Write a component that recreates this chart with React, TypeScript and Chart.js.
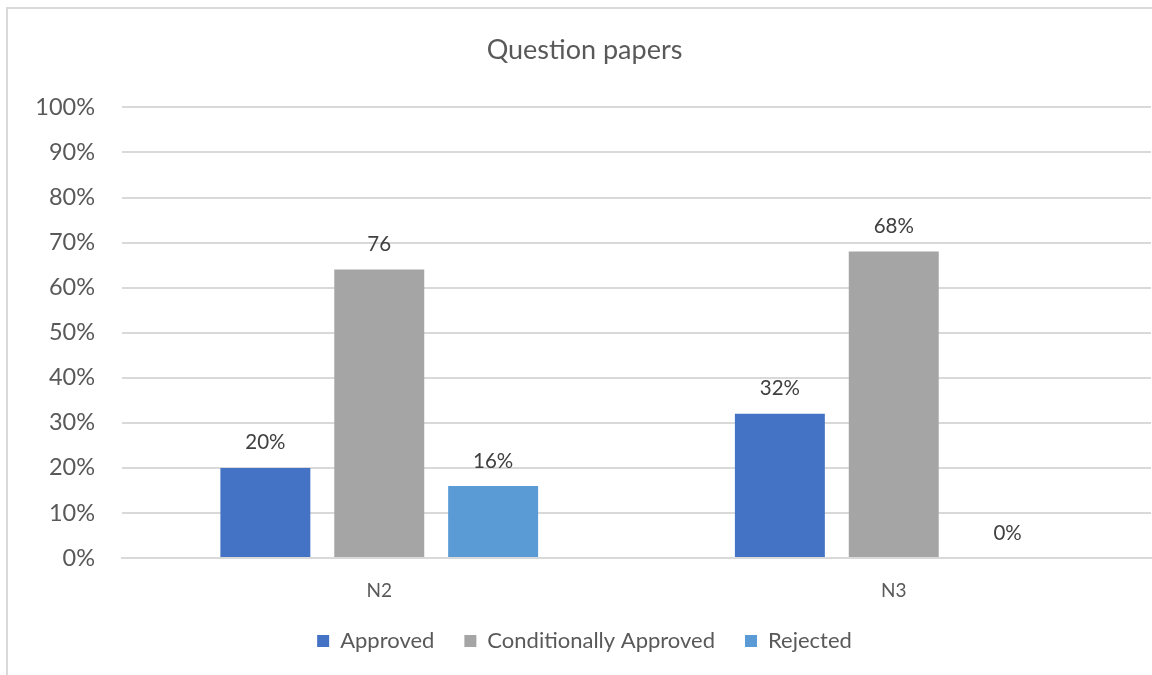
import React, { useEffect, useRef } from "react";
import { Chart, registerables } from "chart.js";

Chart.register(...registerables);

const categories = ["N2", "N3"];
const approved = [20, 32];
const conditionallyApproved = [64, 68];
const rejected = [16, 0];
const approvedLabels = ["20%", "32%"];
const conditionallyApprovedLabels = ["76", "68%"];
const rejectedLabels = ["16%", "0%"];
const yTicks = [0, 10, 20, 30, 40, 50, 60, 70, 80, 90, 100];

const FONT = "Lato, 'Noto Sans', sans-serif";
const TEXT = "#595959";

const dataLabelPlugin = {
  id: "dataLabels",
  afterDatasetsDraw(chart: any) {
    const ctx = chart.ctx;
    ctx.save();
    ctx.font = `20.5px ${FONT}`;
    ctx.fillStyle = "#404040";
    ctx.textAlign = "center";
    ctx.textBaseline = "middle";
    chart.data.datasets.forEach((ds: any, di: number) => {
      const meta = chart.getDatasetMeta(di);
      meta.data.forEach((bar: any, i: number) => {
        const label = ds.valueLabels[i];
        ctx.fillText(label, bar.x, bar.y - 25);
      });
    });
    ctx.restore();
  },
};

export default function App() {
  const ref = useRef<HTMLCanvasElement | null>(null);
  useEffect(() => {
    const prevMargin = document.body.style.margin;
    document.body.style.margin = "0";
    const chart = new Chart(ref.current as HTMLCanvasElement, {
      type: "bar",
      data: {
        labels: categories,
        datasets: [
          { label: "Approved", data: approved, backgroundColor: "#4472C4", valueLabels: approvedLabels } as any,
          { label: "Conditionally Approved", data: conditionallyApproved, backgroundColor: "#A5A5A5", valueLabels: conditionallyApprovedLabels } as any,
          { label: "Rejected", data: rejected, backgroundColor: "#5B9BD5", valueLabels: rejectedLabels } as any,
        ],
      },
      options: {
        animation: false,
        responsive: false,
        layout: { padding: { left: 18, right: 1, top: 0, bottom: 13 } },
        datasets: { bar: { categoryPercentage: 0.664, barPercentage: 0.79 } },
        plugins: {
          title: {
            display: true,
            text: "Question papers",
            color: TEXT,
            font: { family: FONT, size: 27, weight: "normal" },
            padding: { top: 34, bottom: 41 },
          },
          legend: {
            position: "bottom",
            labels: {
              color: TEXT,
              font: { family: FONT, size: 22 },
              boxWidth: 12,
              boxHeight: 12,
              padding: 30,
            },
          },
          tooltip: { enabled: false },
        },
        scales: {
          x: {
            afterFit(scale: any) {
              scale.height = 42;
            },
            grid: { display: false },
            border: { display: true, color: "#D9D9D9", width: 2 },
            ticks: { color: TEXT, font: { family: FONT, size: 19 }, padding: 13 },
          },
          y: {
            min: 0,
            max: 100,
            afterFit(scale: any) {
              scale.width = 104;
            },
            afterBuildTicks(scale: any) {
              scale.ticks = yTicks.map((v) => ({ value: v }));
            },
            grid: { color: "#D9D9D9", lineWidth: 2, drawTicks: false },
            border: { display: false },
            ticks: {
              color: TEXT,
              font: { family: FONT, size: 23.5 },
              padding: 27,
              callback: (v: any) => `${v}%`,
            },
          },
        },
      } as any,
      plugins: [dataLabelPlugin],
    });
    return () => {
      chart.destroy();
      document.body.style.margin = prevMargin;
    };
  }, []);
  return (
    <div style={{ position: "fixed", left: 0, top: 0, width: 1152, height: 675, overflow: "hidden", background: "#fff" }}>
      <canvas ref={ref} width={1152} height={675} style={{ display: "block" }} />
      <div
        style={{
          position: "absolute",
          left: 6,
          top: 7,
          width: 1200,
          height: 800,
          border: "2px solid #D9D9D9",
          pointerEvents: "none",
        }}
      />
    </div>
  );
}
